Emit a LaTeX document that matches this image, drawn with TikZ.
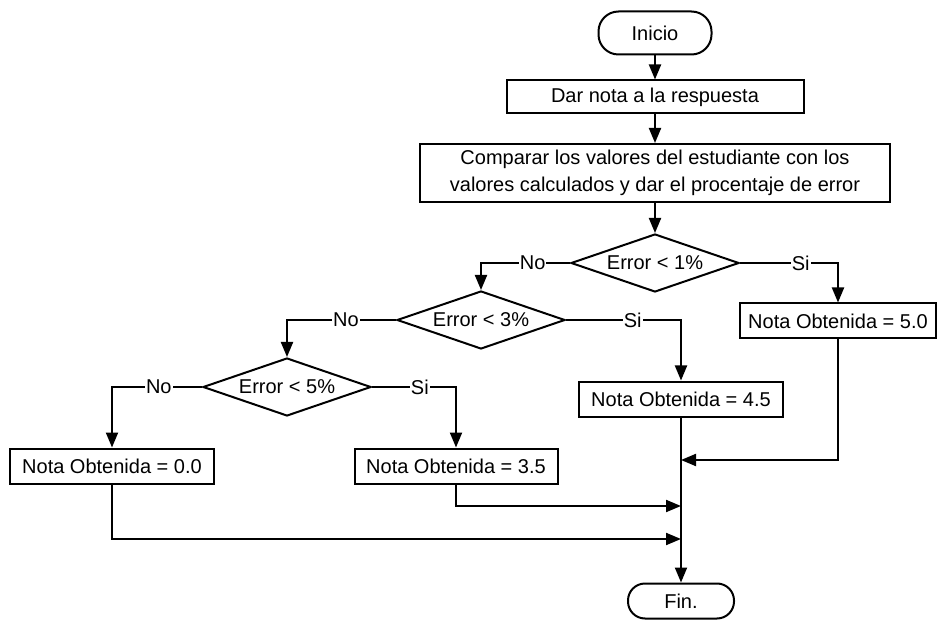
\documentclass[tikz,border=0pt]{standalone}
\usepackage{fontspec}
\setmainfont{Liberation Sans}
\usetikzlibrary{shapes.geometric,arrows.meta}
\begin{document}
\begin{tikzpicture}[x=1pt,y=-1pt,
  font=\fontsize{20}{27}\selectfont,
  lw/.style={line width=2pt},
  box/.style={lw, draw, rectangle, inner sep=0pt, align=center},
  term/.style={box},
  dec/.style={lw, draw, diamond, aspect=2.9, inner sep=0pt, minimum width=168pt, minimum height=58pt},
  conn/.style={lw, -{Triangle[length=15pt,width=12pt]}},
  lbl/.style={fill=white, inner sep=1pt}]
\useasboundingbox (0,0) rectangle (940,620);
\fill[white] (0,0) rectangle (940,620);

\node[term, rounded corners=20pt, minimum width=113pt, minimum height=43pt] (ini) at (655,33) {Inicio};
\node[box, minimum width=297pt, minimum height=33pt] (b1) at (655,97) {Dar nota a la respuesta};
\node[box, minimum width=470pt, minimum height=58pt] (b2) at (655,173) {Comparar los valores del estudiante con los\\valores calculados y dar el procentaje de error};
\node[dec] (d1) at (655,263) {Error < 1\%};
\node[dec] (d2) at (481,320) {Error < 3\%};
\node[dec] (d3) at (287,387) {Error < 5\%};
\node[box, minimum width=196pt, minimum height=35pt] (b50) at (838,321) {Nota Obtenida = 5.0};
\node[box, minimum width=204pt, minimum height=35pt] (b45) at (681,399) {Nota Obtenida = 4.5};
\node[box, minimum width=204pt, minimum height=35pt] (b00) at (112,466) {Nota Obtenida = 0.0};
\node[box, minimum width=203pt, minimum height=35pt] (b35) at (456,466) {Nota Obtenida = 3.5};
\node[term, rounded corners=17pt, minimum width=106pt, minimum height=35pt] (fin) at (681,601) {Fin.};

\coordinate (j1) at (681,460);
\coordinate (j2) at (681,506);
\coordinate (j3) at (681,539);

\draw[conn] (ini) -- (b1);
\draw[conn] (b1) -- (b2);
\draw[conn] (b2) -- (d1);
\draw[conn] (d1.west) -| node[lbl, pos=0.21] {No} (d2.north);
\draw[conn] (d1.east) -| node[lbl, pos=0.31] {Si} (b50.north);
\draw[conn] (d2.west) -| node[lbl, pos=0.23] {No} (d3.north);
\draw[conn] (d2.east) -| node[lbl, pos=0.29] {Si} (b45.north);
\draw[conn] (d3.west) -| node[lbl, pos=0.24] {No} (b00.north);
\draw[conn] (d3.east) -| node[lbl, pos=0.285] {Si} (b35.north);
\draw[conn] (b45.south) -- (fin.north);
\draw[conn] (b50.south) |- (j1);
\draw[conn] (b35.south) |- (j2);
\draw[conn] (b00.south) |- (j3);
\end{tikzpicture}
\end{document}
